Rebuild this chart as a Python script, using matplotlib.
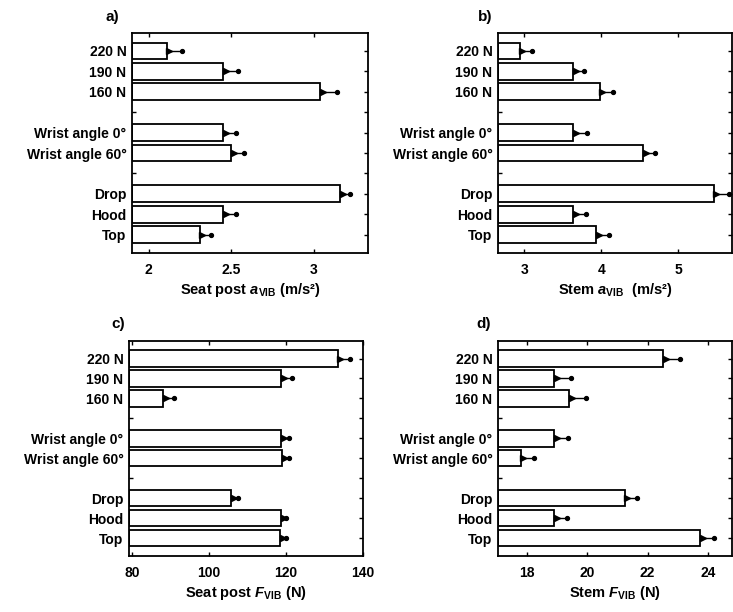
import numpy as np
import matplotlib
matplotlib.use('Agg')
import matplotlib.pyplot as plt

plt.rcParams['font.family'] = ['Liberation Sans', 'DejaVu Sans']
plt.rcParams['font.weight'] = 'bold'
plt.rcParams['axes.labelweight'] = 'bold'
plt.rcParams['mathtext.fontset'] = 'custom'
plt.rcParams['mathtext.rm'] = 'Liberation Sans:bold'
plt.rcParams['mathtext.it'] = 'Liberation Sans:italic:bold'

# Row labels, top to bottom (empty strings are the gaps between groups)
labels = ['220 N', '190 N', '160 N', '', 'Wrist angle 0°', 'Wrist angle 60°', '', 'Drop', 'Hood', 'Top']

# Means and (one-sided) errors per row; None = gap row
seat_a = [2.11, 2.45, 3.04, None, 2.45, 2.50, None, 3.16, 2.45, 2.31]
seat_a_err = [0.09, 0.09, 0.10, None, 0.08, 0.08, None, 0.06, 0.08, 0.07]
stem_a = [2.94, 3.64, 3.98, None, 3.64, 4.54, None, 5.46, 3.64, 3.93]
stem_a_err = [0.16, 0.14, 0.17, None, 0.18, 0.16, None, 0.20, 0.16, 0.17]
seat_f = [133.4, 118.8, 88.0, None, 118.8, 119.0, None, 105.8, 118.8, 118.4]
seat_f_err = [3.2, 2.7, 3.0, None, 1.9, 1.8, None, 1.6, 1.2, 1.6]
stem_f = [22.51, 18.90, 19.39, None, 18.90, 17.79, None, 21.24, 18.90, 23.73]
stem_f_err = [0.55, 0.55, 0.56, None, 0.46, 0.44, None, 0.41, 0.43, 0.47]

W, H = 733, 612
# tag, values, errors, xlim, xticks, xticklabels, xlabel, axes box in px (left, top, right, bottom), tag pos in px
panels = [
    ('a)', seat_a, seat_a_err, (1.9, 3.33), [2, 2.5, 3], ['2', '2.5', '3'],
     r'Seat post $a_{\mathrm{VIB}}$ (m/s²)', (132, 33, 368, 253), (112, 17)),
    ('b)', stem_a, stem_a_err, (2.66, 5.7), [3, 4, 5], ['3', '4', '5'],
     r'Stem $a_{\mathrm{VIB}}$  (m/s²)', (498, 33, 732, 253), (485, 17)),
    ('c)', seat_f, seat_f_err, (79.2, 140), [80, 100, 120, 140], ['80', '100', '120', '140'],
     r'Seat post $F_{\mathrm{VIB}}$ (N)', (129, 341, 363, 556), (118, 324)),
    ('d)', stem_f, stem_f_err, (17.04, 24.8), [18, 20, 22, 24], ['18', '20', '22', '24'],
     r'Stem $F_{\mathrm{VIB}}$ (N)', (498, 341, 732, 556), (484, 324)),
]

fig = plt.figure(figsize=(W / 100, H / 100), dpi=100)

for tag, vals, errs, xlim, xt, xtl, xlabel, (x0, y0, x1, y1), (tx, ty) in panels:
    ax = fig.add_axes([x0 / W, 1 - y1 / H, (x1 - x0) / W, (y1 - y0) / H])
    y = np.arange(len(labels))
    rows = [i for i, v in enumerate(vals) if v is not None]
    v = np.array([vals[i] for i in rows])
    e = np.array([errs[i] for i in rows])
    yy = y[rows]
    ax.barh(yy, v - xlim[0], left=xlim[0], height=0.82, color='white',
            edgecolor='black', linewidth=1.3, zorder=2)
    ax.errorbar(v, yy, xerr=[np.zeros_like(e), e], fmt='none', ecolor='black',
                elinewidth=1.0, capsize=0, zorder=3)
    ax.plot(v + e, yy, 'o', color='black', ms=2.8, zorder=4)
    ax.plot(v + 0.012 * (xlim[1] - xlim[0]), yy, '>', color='black', ms=5, zorder=4)

    ax.set_xlim(*xlim)
    ax.set_ylim(len(labels) - 0.1, -0.88)
    ax.set_xticks(xt)
    ax.set_xticklabels(xtl, fontsize=10)
    ax.set_yticks(y)
    ax.set_yticklabels(labels, fontsize=10)
    ax.tick_params(direction='in', length=3, width=1, top=True, right=True, pad=4)
    ax.tick_params(axis='x', pad=7)
    for s in ax.spines.values():
        s.set_linewidth(1.3)
    ax.set_xlabel(xlabel, fontsize=10.5, labelpad=3)
    fig.text(tx / W, 1 - ty / H, tag, fontsize=11, fontweight='bold', ha='center', va='center')

fig.savefig('out.png', dpi=100)
